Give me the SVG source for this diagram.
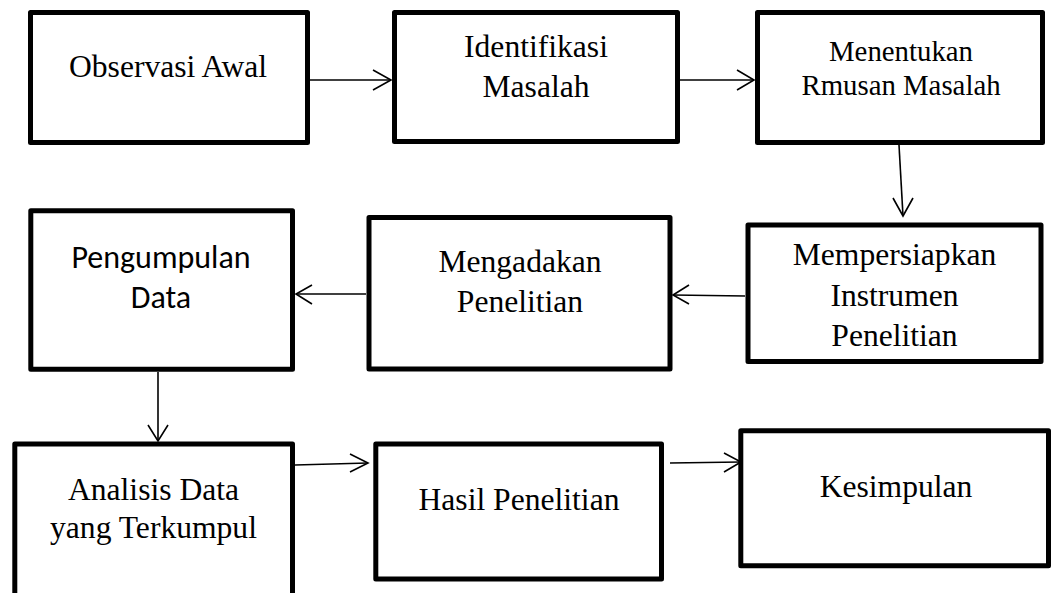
<svg xmlns="http://www.w3.org/2000/svg" width="1051" height="593" viewBox="0 0 1051 593">
  <style>
    .box { fill: #fff; stroke: #000; stroke-width: 5; stroke-linejoin: round; }
    .t { font-family: "Liberation Serif", "Times New Roman", serif; font-size: 31.6px; fill: #000; text-anchor: middle; }
    .ts { font-size: 28.8px; }
    .tc { font-family: Carlito, Lato, "Open Sans", sans-serif; font-size: 32px; fill: #000; text-anchor: middle; }
    .c { fill: none; stroke: #000; stroke-width: 1.6; }
    .h { fill: none; stroke: #000; stroke-width: 1.6; stroke-linejoin: miter; }
  </style>
  <rect width="1051" height="593" fill="#fff"/>

  <!-- connectors -->
  <g id="connectors">
    <path class="c" d="M310 80 H391"/>
    <path class="h" d="M373 70 L391 80 L373 90"/>
    <path class="c" d="M680 80 H754"/>
    <path class="h" d="M737 70 L754 80 L737 90"/>
    <path class="c" d="M899 145 L903 216"/>
    <path class="h" d="M893 198 L903 216 L913 198"/>
    <path class="c" d="M745 296 L673 295"/>
    <path class="h" d="M689 285 L673 295 L689 304"/>
    <path class="c" d="M366 294 H296"/>
    <path class="h" d="M312 285 L296 294 L312 304"/>
    <path class="c" d="M158 372 V441"/>
    <path class="h" d="M148 425 L158 441 L168 425"/>
    <path class="c" d="M295 465 L368 463"/>
    <path class="h" d="M350 454 L368 463 L350 472"/>
    <path class="c" d="M670 463 L741 462"/>
    <path class="h" d="M724 453 L741 462 L724 472"/>
  </g>

  <g id="observasi-awal">
    <rect class="box" x="30.5" y="12.5" width="277" height="130"/>
    <text class="t" x="168" y="77">Observasi Awal</text>
  </g>
  <g id="identifikasi-masalah">
    <rect class="box" x="394.5" y="12.5" width="283" height="129"/>
    <text class="t" x="536" y="57">Identifikasi</text>
    <text class="t" x="536" y="97">Masalah</text>
  </g>
  <g id="rumusan-masalah">
    <rect class="box" x="757.5" y="12.5" width="285" height="130"/>
    <text class="t ts" x="901" y="61">Menentukan</text>
    <text class="t ts" x="901" y="95">Rmusan Masalah</text>
  </g>
  <g id="instrumen-penelitian">
    <rect class="box" x="748" y="225" width="293" height="136.5"/>
    <text class="t" x="894.5" y="265">Mempersiapkan</text>
    <text class="t" x="894.5" y="306">Instrumen</text>
    <text class="t" x="894.5" y="346">Penelitian</text>
  </g>
  <g id="mengadakan-penelitian">
    <rect class="box" x="369" y="217.5" width="301" height="151.5"/>
    <text class="t" x="520" y="271.7">Mengadakan</text>
    <text class="t" x="520" y="311.7">Penelitian</text>
  </g>
  <g id="pengumpulan-data">
    <rect class="box" x="30.8" y="210.8" width="261.7" height="158.4"/>
    <text class="tc" x="161" y="268.3">Pengumpulan</text>
    <text class="tc" x="161" y="308.3">Data</text>
  </g>
  <g id="analisis-data">
    <rect class="box" x="14.8" y="444" width="277.7" height="170"/>
    <text class="t" x="153.5" y="500">Analisis Data</text>
    <text class="t" x="153.5" y="538.3">yang Terkumpul</text>
  </g>
  <g id="hasil-penelitian">
    <rect class="box" x="375.8" y="444" width="285.7" height="135"/>
    <text class="t" x="519" y="510">Hasil Penelitian</text>
  </g>
  <g id="kesimpulan">
    <rect class="box" x="740.8" y="430.8" width="307.7" height="135"/>
    <text class="t" x="896" y="496.7">Kesimpulan</text>
  </g>
</svg>
